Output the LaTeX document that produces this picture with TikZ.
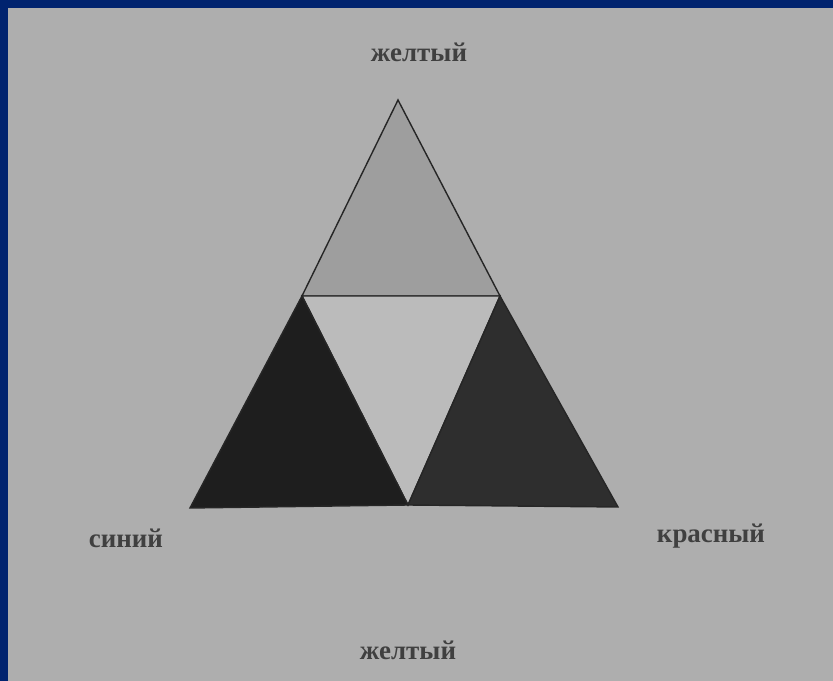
\documentclass[tikz,border=0pt]{standalone}
\usepackage{fontspec}
\setmainfont{Liberation Serif}
\usetikzlibrary{positioning}
\definecolor{frameblue}{HTML}{00236F}
\definecolor{paper}{HTML}{AEAEAE}
\definecolor{toplight}{HTML}{9E9E9E}
\definecolor{midlight}{HTML}{BBBBBB}
\definecolor{leftdark}{HTML}{1E1E1E}
\definecolor{rightdark}{HTML}{2E2E2E}
\tikzset{
  colorname/.style={font=\fontsize{23}{26}\selectfont\bfseries, text=black!75, inner sep=0pt},
  piece/.style={draw=black!85, line width=1.2pt, line join=miter}
}

\begin{document}
\begin{tikzpicture}[x=0.03cm, y=-0.03cm]
  % frame and paper
  \fill[frameblue] (0,0) rectangle (833,681);
  \fill[paper] (8,8) rectangle (833,681);
  \useasboundingbox (0,0) rectangle (833,681);

  % corners of the big triangle and the midpoints
  \coordinate (top) at (398,100);
  \coordinate (bl) at (190,508);
  \coordinate (br) at (618,507);
  \coordinate (ml) at (302,296);
  \coordinate (mr) at (500,296);
  \coordinate (mb) at (408,505);

  \filldraw[piece, fill=toplight] (top) -- (ml) -- (mr) -- cycle;
  \filldraw[piece, fill=midlight] (ml) -- (mr) -- (mb) -- cycle;
  \filldraw[piece, fill=leftdark] (ml) -- (mb) -- (bl) -- cycle;
  \filldraw[piece, fill=rightdark] (mr) -- (br) -- (mb) -- cycle;

  \node[colorname] (ytop) at (419,52) {желтый};
  \node[colorname] (blue) at (126,538) {синий};
  \node[colorname] (red) at (711,536) {красный};
  \node[colorname] (ybot) at (408,650) {желтый};
\end{tikzpicture}
\end{document}
